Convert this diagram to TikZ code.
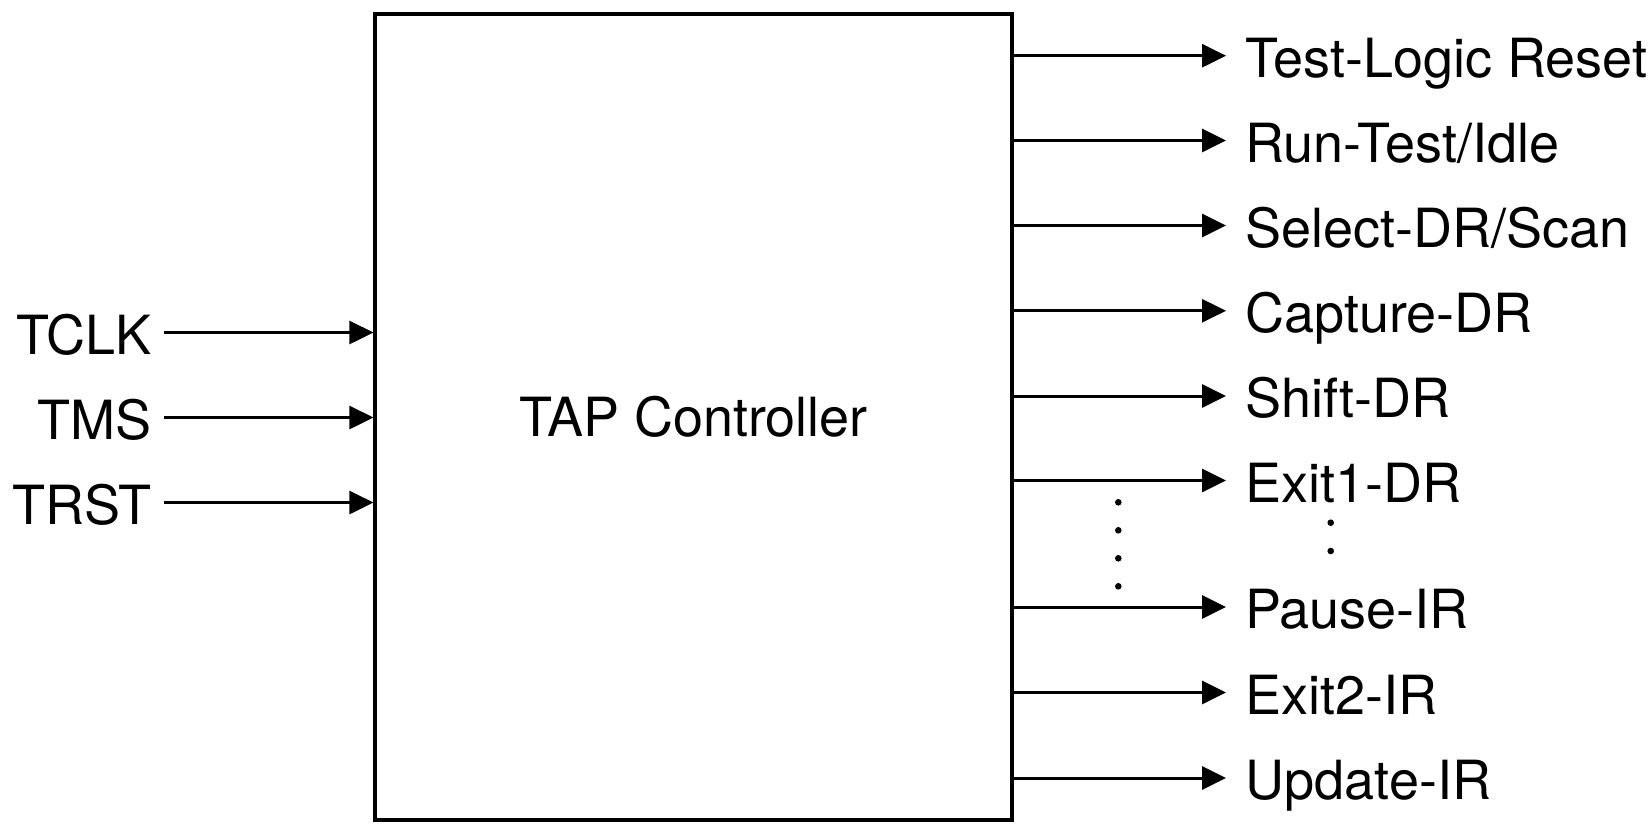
\documentclass[tikz,border=0pt]{standalone}
\usepackage{fontspec}
\setmainfont{TeX Gyre Heros}
\usetikzlibrary{arrows.meta}

\begin{document}
\begin{tikzpicture}[x=0.5pt, y=-0.5pt,
    every node/.style={font=\fontsize{27pt}{32pt}\selectfont},
    ctrl/.style={draw, line width=1.6pt, minimum width=318.5pt, minimum height=403pt, inner sep=0pt},
    inlabel/.style={anchor=east, inner xsep=6pt, inner ysep=0pt, text height=21.5pt, text depth=0pt},
    outlabel/.style={anchor=west, inner xsep=9.5pt, inner ysep=0pt, text height=21.5pt, text depth=0pt},
    sig/.style={line width=1.5pt, -{Triangle[length=12pt, width=11.5pt]}}]
    \useasboundingbox (0,0) rectangle (1652,830);
    \node[ctrl] (tap) at (693.5,417) {TAP Controller};
    % inputs
    \node[inlabel] (tclk) at (164,332.5) {TCLK};
    \node[inlabel] (tms) at (164,417.5) {TMS};
    \node[inlabel] (trst) at (164,502.5) {TRST};
    \draw[sig] (tclk.east) -- (tap.west |- tclk.east);
    \draw[sig] (tms.east) -- (tap.west |- tms.east);
    \draw[sig] (trst.east) -- (tap.west |- trst.east);
    % states
    \node[outlabel] (tlr) at (1226,55.7) {Test-Logic Reset};
    \node[outlabel] (rti) at (1226,140.5) {Run-Test/Idle};
    \node[outlabel] (seldr) at (1226,225.5) {Select-DR/Scan};
    \node[outlabel] (capdr) at (1226,310.8) {Capture-DR};
    \node[outlabel] (shdr) at (1226,396) {Shift-DR};
    \node[outlabel] (ex1dr) at (1226,480.5) {Exit1-DR};
    \node[outlabel] (pauir) at (1226,607) {Pause-IR};
    \node[outlabel] (ex2ir) at (1226,692.5) {Exit2-IR};
    \node[outlabel] (updir) at (1226,778) {Update-IR};
    \draw[sig] (tap.east |- tlr.west) -- (tlr.west);
    \draw[sig] (tap.east |- rti.west) -- (rti.west);
    \draw[sig] (tap.east |- seldr.west) -- (seldr.west);
    \draw[sig] (tap.east |- capdr.west) -- (capdr.west);
    \draw[sig] (tap.east |- shdr.west) -- (shdr.west);
    \draw[sig] (tap.east |- ex1dr.west) -- (ex1dr.west);
    \draw[sig] (tap.east |- pauir.west) -- (pauir.west);
    \draw[sig] (tap.east |- ex2ir.west) -- (ex2ir.west);
    \draw[sig] (tap.east |- updir.west) -- (updir.west);
    % dots
    \fill (1118.3,502.3) circle (1.65pt);
    \fill (1118.3,530.3) circle (1.65pt);
    \fill (1118.3,558.3) circle (1.65pt);
    \fill (1118.3,586.3) circle (1.65pt);
    \fill (1330.7,522.7) circle (1.65pt);
    \fill (1330.7,551) circle (1.65pt);
\end{tikzpicture}
\end{document}
